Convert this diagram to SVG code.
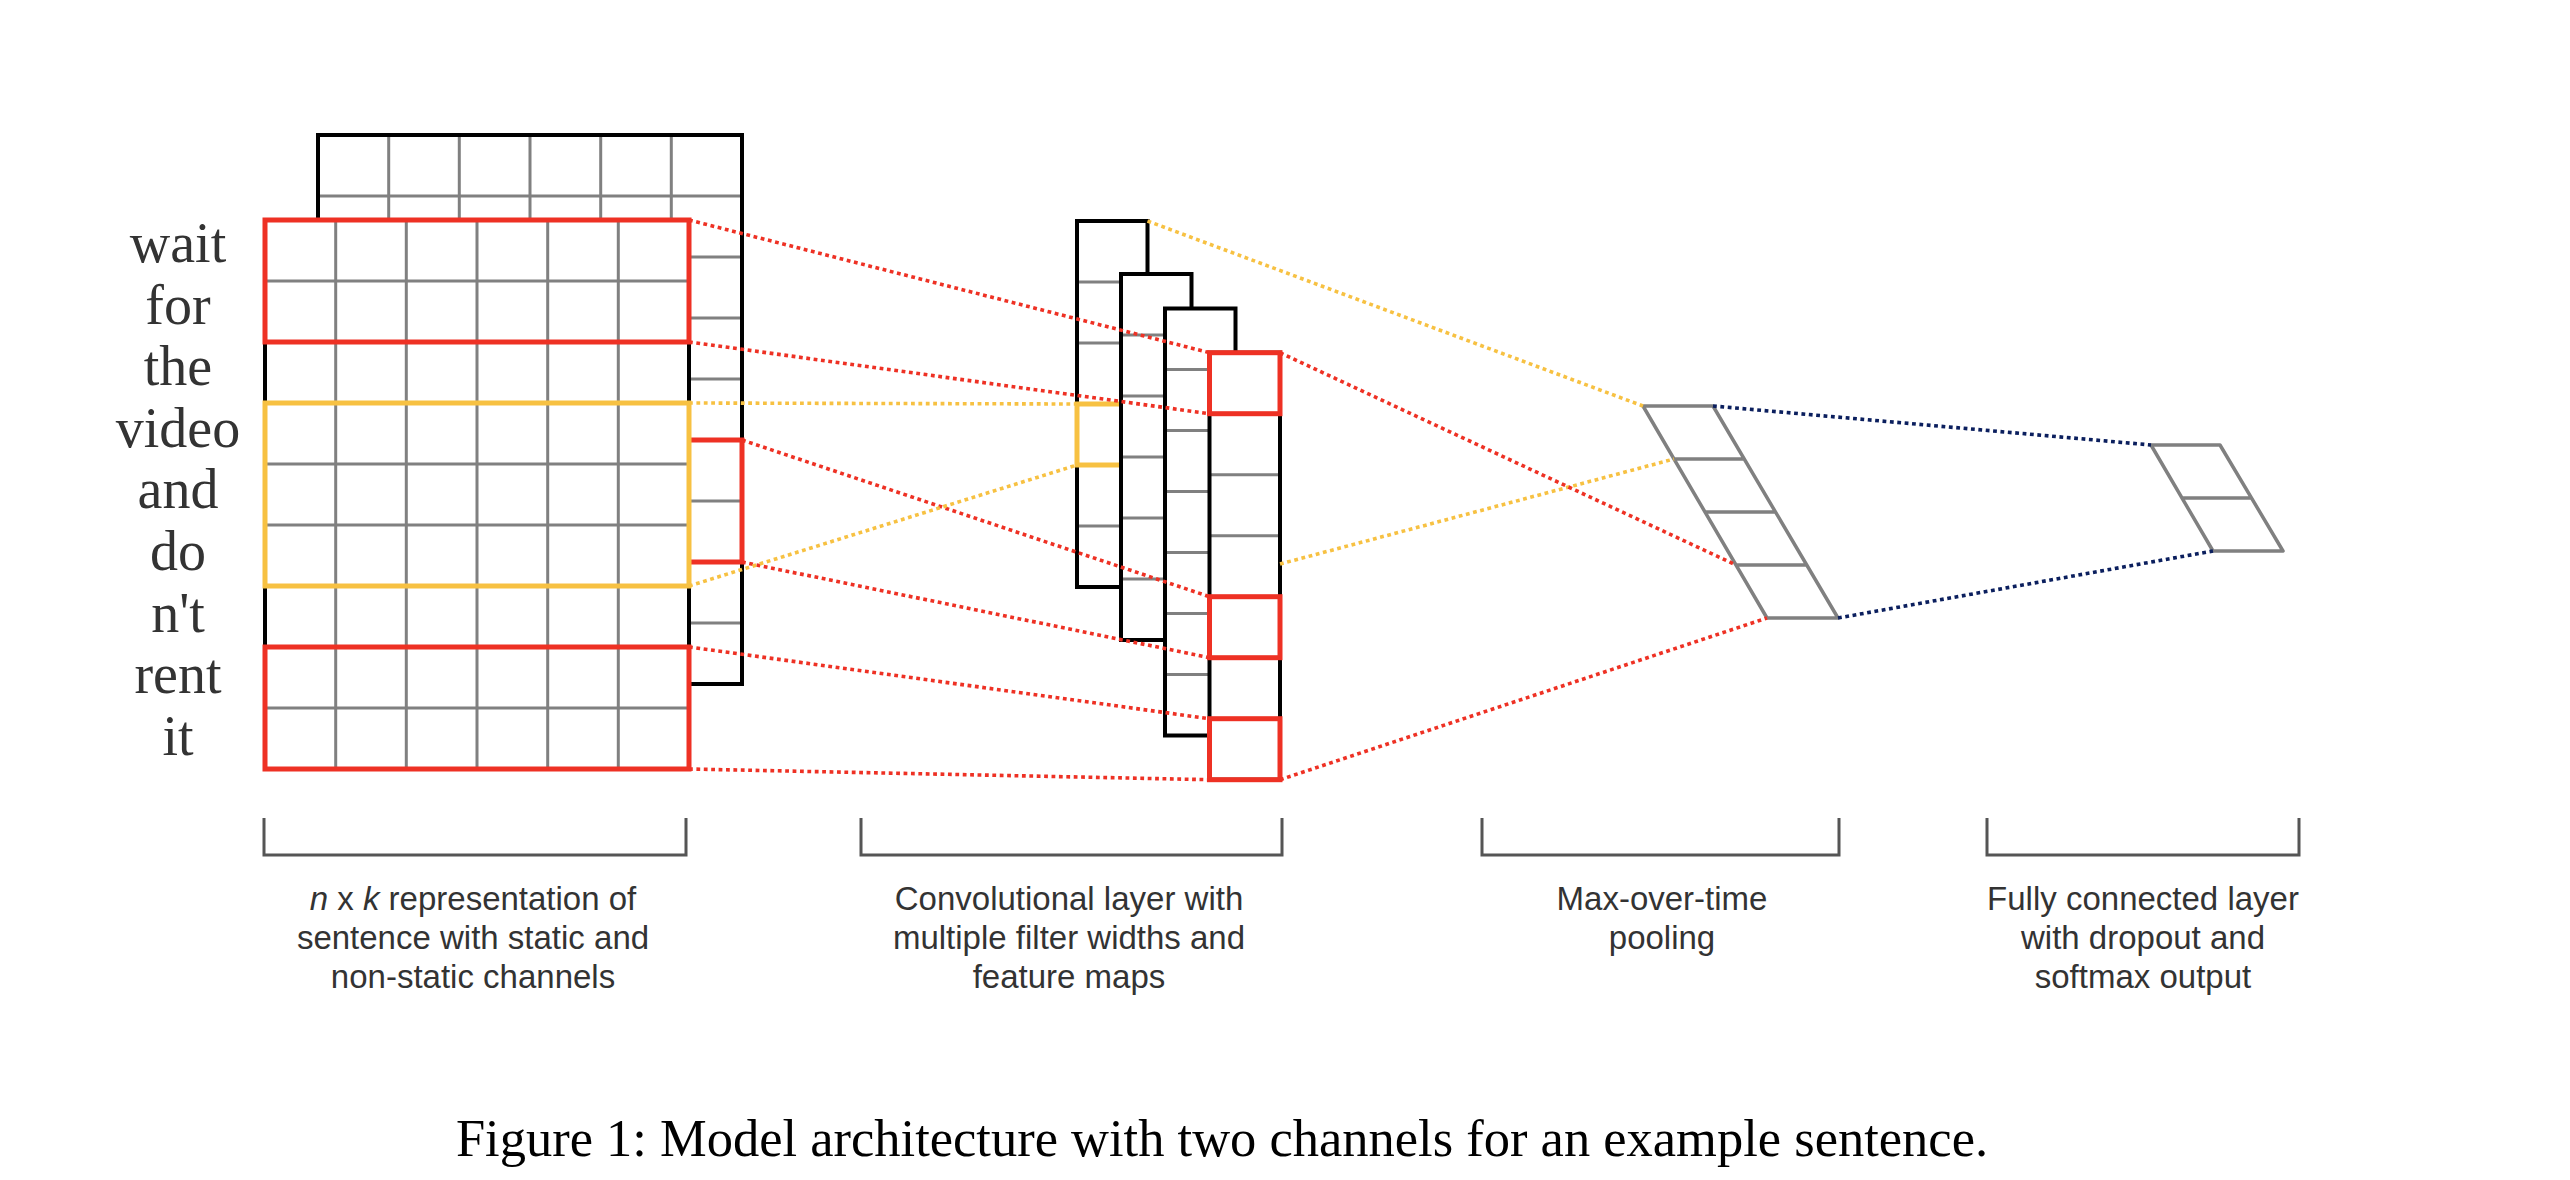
<svg xmlns="http://www.w3.org/2000/svg" width="2570" height="1180" viewBox="0 0 2570 1180">
<style>
.bg{fill:#ffffff}
.cell{fill:#ffffff;stroke:none}
.grid{stroke:#808080;stroke-width:3;fill:none}
.edge{fill:none;stroke:#000000;stroke-width:4}
.red{fill:none;stroke:#EE3124;stroke-width:5}
.yel{fill:none;stroke:#F7C142;stroke-width:5}
.poly{fill:none;stroke:#808080;stroke-width:3.5;stroke-linejoin:round}
.dot{fill:none;stroke-width:3.6;stroke-dasharray:3.8 3.6}
.dr{stroke:#EE3124}
.dy{stroke:#F7C142}
.dn{stroke:#0B1F5E}
.word{font-family:"Liberation Serif","Times New Roman",serif;font-size:56px;fill:#333333;text-anchor:middle}
.lab{font-family:"Liberation Sans",Arial,sans-serif;font-size:33px;fill:#333333;text-anchor:middle}
.brk{fill:none;stroke:#555555;stroke-width:3}
.cap{font-family:"Liberation Serif","Times New Roman",serif;font-size:52.5px;fill:#000000;text-anchor:middle}
</style>
<rect class="bg" x="0" y="0" width="2570" height="1180"/>

<g id="back-channel">
<rect class="cell" x="318" y="135" width="424" height="549"/>
<path class="grid" d="M388.7,135V684M459.3,135V684M530,135V684M600.7,135V684M671.3,135V684M318,196H742M318,257H742M318,318H742M318,379H742M318,440H742M318,501H742M318,562H742M318,623H742"/>
<rect class="edge" x="318" y="135" width="424" height="549"/>
<rect class="red" x="318" y="440" width="424" height="122"/>
</g>

<g id="front-channel">
<rect class="cell" x="265" y="220" width="424" height="549"/>
<path class="grid" d="M335.7,220V769M406.3,220V769M477,220V769M547.7,220V769M618.3,220V769M265,281H689M265,342H689M265,403H689M265,464H689M265,525H689M265,586H689M265,647H689M265,708H689"/>
<rect class="edge" x="265" y="220" width="424" height="549"/>
<rect class="red" x="265" y="220" width="424" height="122"/>
<rect class="yel" x="265" y="403" width="424" height="183"/>
<rect class="red" x="265" y="647" width="424" height="122"/>
</g>

<g id="words">
<text class="word" x="178" y="262">wait</text>
<text class="word" x="178" y="323.6">for</text>
<text class="word" x="178" y="385.2">the</text>
<text class="word" x="178" y="446.8">video</text>
<text class="word" x="178" y="508.4">and</text>
<text class="word" x="178" y="570">do</text>
<text class="word" x="178" y="631.6">n't</text>
<text class="word" x="178" y="693.2">rent</text>
<text class="word" x="178" y="754.8">it</text>
</g>

<g id="feature-map-1">
<rect class="cell" x="1077" y="221" width="70.5" height="366"/>
<path class="grid" d="M1077,282H1147.5M1077,343H1147.5M1077,404H1147.5M1077,465H1147.5M1077,526H1147.5"/>
<rect class="edge" x="1077" y="221" width="70.5" height="366"/>
<rect class="yel" x="1077" y="404" width="70.5" height="61"/>
</g>
<g id="feature-map-2">
<rect class="cell" x="1121" y="274" width="70.5" height="366"/>
<path class="grid" d="M1121,335H1191.5M1121,396H1191.5M1121,457H1191.5M1121,518H1191.5M1121,579H1191.5"/>
<rect class="edge" x="1121" y="274" width="70.5" height="366"/>
</g>
<g id="feature-map-3">
<rect class="cell" x="1165" y="308.5" width="70.5" height="427"/>
<path class="grid" d="M1165,369.5H1235.5M1165,430.5H1235.5M1165,491.5H1235.5M1165,552.5H1235.5M1165,613.5H1235.5M1165,674.5H1235.5"/>
<rect class="edge" x="1165" y="308.5" width="70.5" height="427"/>
</g>
<g id="feature-map-4">
<rect class="cell" x="1209.5" y="352.7" width="70.5" height="427"/>
<path class="grid" d="M1209.5,413.7H1280M1209.5,474.7H1280M1209.5,535.7H1280M1209.5,596.7H1280M1209.5,657.7H1280M1209.5,718.7H1280"/>
<rect class="edge" x="1209.5" y="352.7" width="70.5" height="427"/>
<rect class="red" x="1209.5" y="352.7" width="70.5" height="61"/>
<rect class="red" x="1209.5" y="596.7" width="70.5" height="61"/>
<rect class="red" x="1209.5" y="718.7" width="70.5" height="61"/>
</g>

<g id="max-pooling">
<path class="poly" d="M1643,406H1713L1838,618H1767ZM1674,459H1744M1705,512H1775M1736,565H1806"/>
</g>

<g id="fully-connected">
<path class="poly" d="M2151,445H2220L2283,551H2213ZM2182,498H2252"/>
</g>

<g id="connectors">
<line class="dot dr" x1="689" y1="220" x2="1209.5" y2="352.7"/>
<line class="dot dr" x1="689" y1="342" x2="1209.5" y2="413.7"/>
<line class="dot dr" x1="742" y1="440" x2="1209.5" y2="596.7"/>
<line class="dot dr" x1="742" y1="562" x2="1209.5" y2="657.7"/>
<line class="dot dr" x1="689" y1="647" x2="1209.5" y2="718.7"/>
<line class="dot dr" x1="689" y1="769" x2="1209.5" y2="779.7"/>
<line class="dot dy" x1="689" y1="403" x2="1077" y2="404"/>
<line class="dot dy" x1="689" y1="586" x2="1077" y2="465"/>
<line class="dot dy" x1="1147.5" y1="221" x2="1643" y2="406"/>
<line class="dot dy" x1="1280" y1="564" x2="1674" y2="459"/>
<line class="dot dr" x1="1280" y1="352.7" x2="1736" y2="565"/>
<line class="dot dr" x1="1280" y1="779.7" x2="1767" y2="618"/>
<line class="dot dn" x1="1713" y1="406" x2="2151" y2="445"/>
<line class="dot dn" x1="1838" y1="618" x2="2213" y2="551"/>
</g>

<g id="label-input">
<path class="brk" d="M264,818V855H686V818"/>
<text class="lab" x="473" y="910"><tspan font-style="italic">n</tspan> x <tspan font-style="italic">k</tspan> representation of</text>
<text class="lab" x="473" y="949">sentence with static and</text>
<text class="lab" x="473" y="988">non-static channels</text>
</g>
<g id="label-conv">
<path class="brk" d="M861,818V855H1282V818"/>
<text class="lab" x="1069" y="910">Convolutional layer with</text>
<text class="lab" x="1069" y="949">multiple filter widths and</text>
<text class="lab" x="1069" y="988">feature maps</text>
</g>
<g id="label-pool">
<path class="brk" d="M1482,818V855H1839V818"/>
<text class="lab" x="1662" y="910">Max-over-time</text>
<text class="lab" x="1662" y="949">pooling</text>
</g>
<g id="label-fc">
<path class="brk" d="M1987,818V855H2299V818"/>
<text class="lab" x="2143" y="910">Fully connected layer</text>
<text class="lab" x="2143" y="949">with dropout and</text>
<text class="lab" x="2143" y="988">softmax output</text>
</g>

<g id="caption">
<text class="cap" x="1222" y="1156">Figure 1: Model architecture with two channels for an example sentence.</text>
</g>
</svg>
